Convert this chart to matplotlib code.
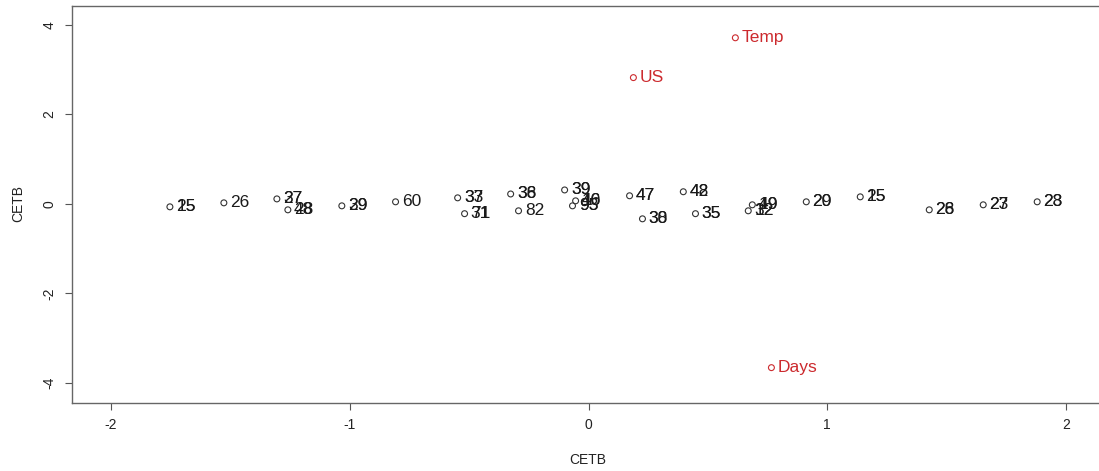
import matplotlib
matplotlib.use("Agg")
import matplotlib.pyplot as plt

plt.rcParams['font.family'] = ['Liberation Sans', 'DejaVu Sans']

# Black points (observations) and their labels; second label overprinted at same spot
obs_x = [-1.753, -1.527, -1.305, -1.259, -1.033, -0.808, -0.548, -0.519,
         -0.326, -0.293, -0.100, -0.054, -0.067, 0.172, 0.397, 0.226,
         0.448, 0.686, 0.669, 0.912, 1.138, 1.427, 1.653, 1.879]
obs_y = [-0.067, 0.022, 0.110, -0.134, -0.045, 0.045, 0.134, -0.220,
         0.220, -0.156, 0.310, 0.067, -0.045, 0.180, 0.270, -0.335,
         -0.220, -0.022, -0.156, 0.045, 0.156, -0.134, -0.022, 0.045]
obs_label = ['25', '26', '37', '28', '29', '60', '33', '31',
             '38', '82', '39', '40', '93', '47', '48', '30',
             '35', '49', '32', '20', '25', '26', '23', '28']
obs_label2 = ['15', '', '27', '48', '39', '', '37', '71',
              '36', '', '39', '16', '95', '47', '42', '38',
              '35', '19', '12', '29', '15', '28', '27', '23']

# Red points (variables)
var_x = [0.615, 0.188, 0.766]
var_y = [3.71, 2.82, -3.66]
var_label = ['Temp', 'US', 'Days']

xticks = [-2, -1, 0, 1, 2]
yticks = [-4, -2, 0, 2, 4]

fig = plt.figure(figsize=(10.99, 4.71), dpi=100)
ax = fig.add_axes([72 / 1099, 68 / 471, (1105 - 72) / 1099, (403 - 6) / 471])
ax.set_xlim(-2.163, 2.163)
ax.set_ylim(-4.45, 4.42)

red = '#cc2a2e'
ax.scatter(obs_x, obs_y, s=18, facecolors='none', edgecolors='#333333', linewidths=0.8, zorder=3)
ax.scatter(var_x, var_y, s=18, facecolors='none', edgecolors=red, linewidths=0.8, zorder=3)

lbl_kw = dict(fontsize=12.5, ha='left', va='center', textcoords='offset points', xytext=(4.5, 0))
for x, y, l1, l2 in zip(obs_x, obs_y, obs_label, obs_label2):
    ax.annotate(l1, (x, y), color='#1a1a1a', **lbl_kw)
    if l2:
        ax.annotate(l2, (x, y), color='#1a1a1a', **lbl_kw)
for x, y, l in zip(var_x, var_y, var_label):
    ax.annotate(l, (x, y), color=red, **lbl_kw)

ax.set_xticks(xticks)
ax.set_yticks(yticks)
ax.set_xticklabels([str(t) for t in xticks])
ax.set_yticklabels([str(t) for t in yticks], rotation=90, va='center')
ax.tick_params(axis='both', length=5, width=0.8, colors='#555555', labelcolor='#222222',
               labelsize=10, pad=6)
for s in ax.spines.values():
    s.set_color('#666666')
    s.set_linewidth(1.0)

fig.text(588 / 1099, 1 - 460 / 471, 'CETB', ha='center', va='center', fontsize=10, color='#222222')
fig.text(18 / 1099, 1 - 204 / 471, 'CETB', ha='center', va='center', rotation=90, fontsize=10, color='#222222')

fig.savefig('out.png', dpi=100)
